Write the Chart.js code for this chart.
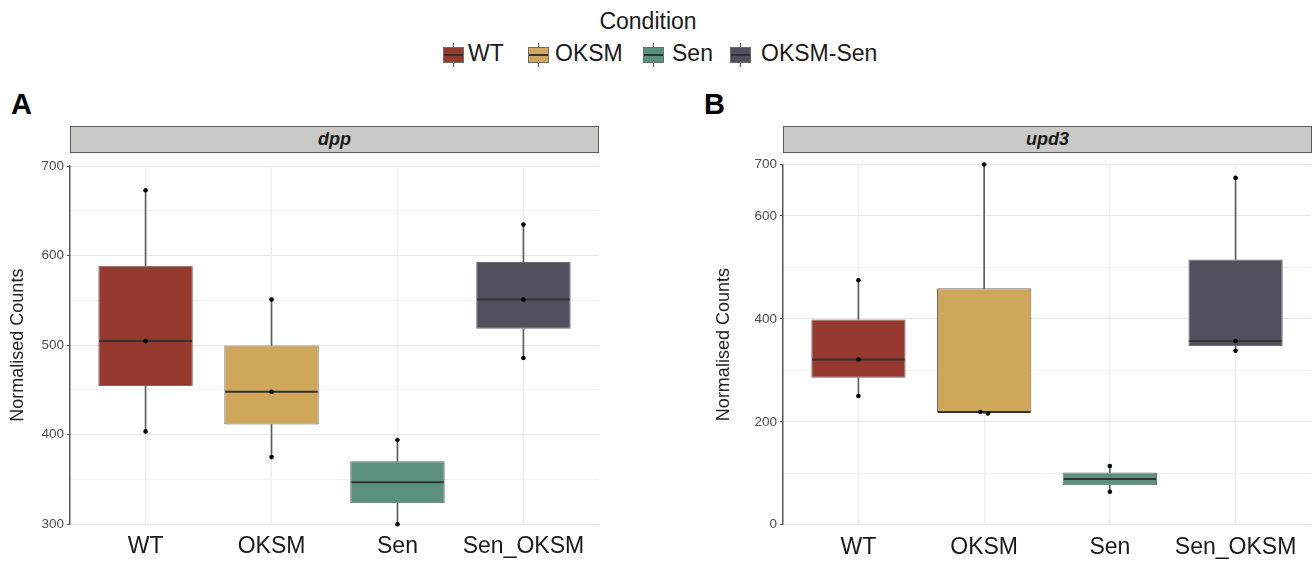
<!DOCTYPE html>
<html>
<head>
<meta charset="utf-8">
<script src="https://cdn.jsdelivr.net/npm/chart.js@4"></script>
<style>
  body { margin: 0; background: #fff; font-family: "Liberation Sans", Arial, sans-serif; }
  #page { position: relative; width: 1315px; height: 564px; overflow: hidden; }
  canvas { position: absolute; top: 0; }
  .strip { position: absolute; top: 126px; height: 27px; box-sizing: border-box; background: #c9cac5; border: 1px solid #5a5a5a;
           text-align: center; font-weight: bold; font-style: italic; font-size: 18px; line-height: 25px; color: #1a1a1a; }
  .tag { position: absolute; top: 89.6px; font-weight: bold; font-size: 29px; line-height: 29px; color: #000; }
  .legend-title { position: absolute; top: 9.7px; left: 0; width: 1296px; text-align: center; font-size: 23px; line-height: 23px; color: #1a1a1a; }
  .key { position: absolute; top: 43px; width: 21px; height: 24px; }
  .key .whisk { position: absolute; left: 10px; top: 0; width: 1px; height: 24px; background: #555; }
  .key .body { position: absolute; left: 0; top: 3.7px; width: 21px; height: 16.6px; box-sizing: border-box; border: 1px solid #6e6e6e; }
  .key .med { position: absolute; left: 1px; top: 10.5px; width: 19px; height: 2px; background: #333; }
  .ktext { position: absolute; top: 42px; font-size: 23px; line-height: 23px; color: #1a1a1a; }
</style>
</head>
<body>
<div id="page">
  <div class="legend-title">Condition</div>
  <div id="legend"></div>

  <div class="tag" style="left:11px">A</div>
  <div class="tag" style="left:704px">B</div>

  <div class="strip" style="left:70px; width:529px">dpp</div>
  <div class="strip" style="left:783px; width:529px">upd3</div>

  <canvas id="dppChart" width="657" height="564" style="left:0"></canvas>
  <canvas id="upd3Chart" width="658" height="564" style="left:657px"></canvas>
</div>

<script>
const categories = ['WT', 'OKSM', 'Sen', 'Sen_OKSM'];
const legendLabels = ['WT', 'OKSM', 'Sen', 'OKSM-Sen'];
const boxColors = ['#963a30', '#cea75b', '#5a907c', '#52505e'];

// dpp panel
const dppLow = [403.7, 375, 300, 485.6];
const dppQ1 = [454.5, 411.5, 323.5, 518.3];
const dppMedian = [504.5, 448, 347, 551];
const dppQ3 = [588.7, 499.5, 370.5, 592.8];
const dppHigh = [673, 551, 394, 634.6];
const dppPoints = [[673, 504.5, 403.7], [551, 448, 375], [394, 300], [634.6, 551, 485.6]];
const dppJitter = [[0, 0, 0], [0, 0, 0], [0, 0], [0, 0, 0]];
const dppTicks = [300, 400, 500, 600, 700];

// upd3 panel
const upd3Low = [250, 216, 64, 338];
const upd3Q1 = [285.5, 217.5, 76.5, 347.5];
const upd3Median = [321, 219, 89, 357];
const upd3Q3 = [399, 459.5, 101.5, 515.5];
const upd3High = [475, 700, 114, 674];
const upd3Points = [[475, 321, 250], [700, 219, 216], [114, 64], [674, 357, 338]];
const upd3Jitter = [[0, 0, 0], [0, -0.03, 0.03], [0, 0], [0, 0, 0]];
const upd3Ticks = [0, 200, 400, 600, 700];

Chart.defaults.font.family = '"Liberation Sans", Arial, sans-serif';

// legend keys (html)
const keyLeft = [443, 528, 643, 730];
const textLeft = [468, 555, 672, 761];
let legendHtml = '';
legendLabels.forEach((lab, i) => {
  legendHtml += '<div class="key" style="left:' + keyLeft[i] + 'px"><div class="whisk"></div>' +
    '<div class="body" style="background:' + boxColors[i] + '"></div><div class="med"></div></div>' +
    '<div class="ktext" style="left:' + textLeft[i] + 'px">' + lab + '</div>';
});
document.getElementById('legend').innerHTML = legendHtml;

function makePanel(canvasId, p) {
  // draws the median bar on top of each box
  const medianLines = {
    id: 'medianLines',
    afterDatasetDraw(chart, args) {
      if (args.index !== 2) return;
      const ctx = chart.ctx;
      const y = chart.scales.y;
      ctx.save();
      ctx.strokeStyle = '#333';
      ctx.lineWidth = 2;
      args.meta.data.forEach((bar, i) => {
        const py = y.getPixelForValue(p.median[i]);
        ctx.beginPath();
        ctx.moveTo(bar.x - bar.width / 2 + 1, py);
        ctx.lineTo(bar.x + bar.width / 2 - 1, py);
        ctx.stroke();
      });
      ctx.restore();
    }
  };

  return new Chart(document.getElementById(canvasId), {
    type: 'bar',
    data: {
      datasets: [
        {
          label: 'upper whisker',
          data: categories.map((c, i) => ({ x: i, y: [p.q3[i], p.high[i]] })),
          backgroundColor: '#5c5c5c',
          barThickness: 1,
          grouped: false,
          order: 4
        },
        {
          label: 'lower whisker',
          data: categories.map((c, i) => ({ x: i, y: [p.low[i], p.q1[i]] })),
          backgroundColor: '#5c5c5c',
          barThickness: 1,
          grouped: false,
          order: 3
        },
        {
          label: 'box',
          data: categories.map((c, i) => ({ x: i, y: [p.q1[i], p.q3[i]] })),
          backgroundColor: boxColors,
          borderColor: '#6e6e6e',
          borderWidth: 1,
          borderSkipped: false,
          barPercentage: 0.75,
          categoryPercentage: 1,
          grouped: false,
          order: 2
        },
        {
          type: 'scatter',
          label: 'samples',
          data: p.points.flatMap((vals, i) => vals.map((v, j) => ({ x: i + p.jitter[i][j], y: v }))),
          backgroundColor: '#000',
          borderWidth: 0,
          pointRadius: 2.3,
          clip: false,
          order: 1
        }
      ]
    },
    options: {
      responsive: false,
      animation: false,
      layout: { padding: p.padding },
      plugins: { legend: { display: false }, tooltip: { enabled: false } },
      scales: {
        x: {
          type: 'linear',
          min: -0.6,
          max: 3.6,
          offset: false,
          afterBuildTicks: (s) => { s.ticks = categories.map((c, i) => ({ value: i })); },
          afterFit: (s) => { s.height = p.xHeight; },
          ticks: {
            callback: (v) => categories[v],
            font: { size: 23 },
            color: '#1a1a1a',
            padding: 9,
            maxRotation: 0,
            autoSkip: false
          },
          grid: { color: '#ececec', drawTicks: false, offset: false },
          border: { display: false }
        },
        y: {
          min: p.min,
          max: p.max,
          afterFit: (s) => { s.width = p.yWidth; },
          ticks: {
            stepSize: p.step,
            callback: (v) => p.ticks.includes(v) ? v : '',
            font: { size: 13.5 },
            color: '#4d4d4d',
            padding: 3
          },
          title: {
            display: true,
            text: 'Normalised Counts',
            font: { size: 18 },
            color: '#222',
            padding: 0
          },
          grid: {
            color: (ctx) => p.ticks.includes(ctx.tick.value) ? '#e8e8e8' : '#f3f3f3',
            tickColor: (ctx) => p.ticks.includes(ctx.tick.value) ? '#555' : 'rgba(0,0,0,0)',
            tickLength: 3
          },
          border: { display: true, color: '#555', width: 1.5 }
        }
      }
    },
    plugins: [medianLines]
  });
}

const dppChart = makePanel('dppChart', {
  low: dppLow, q1: dppQ1, median: dppMedian, q3: dppQ3, high: dppHigh,
  points: dppPoints, jitter: dppJitter, ticks: dppTicks,
  min: 300, max: 700, step: 50,
  padding: { left: 7, right: 58, top: 166, bottom: 0 },
  yWidth: 63, xHeight: 39.7
});

const upd3Chart = makePanel('upd3Chart', {
  low: upd3Low, q1: upd3Q1, median: upd3Median, q3: upd3Q3, high: upd3High,
  points: upd3Points, jitter: upd3Jitter, ticks: upd3Ticks,
  min: 0, max: 700, step: 100,
  padding: { left: 56, right: 3, top: 164.5, bottom: 0 },
  yWidth: 70, xHeight: 39.3
});
</script>
</body>
</html>
